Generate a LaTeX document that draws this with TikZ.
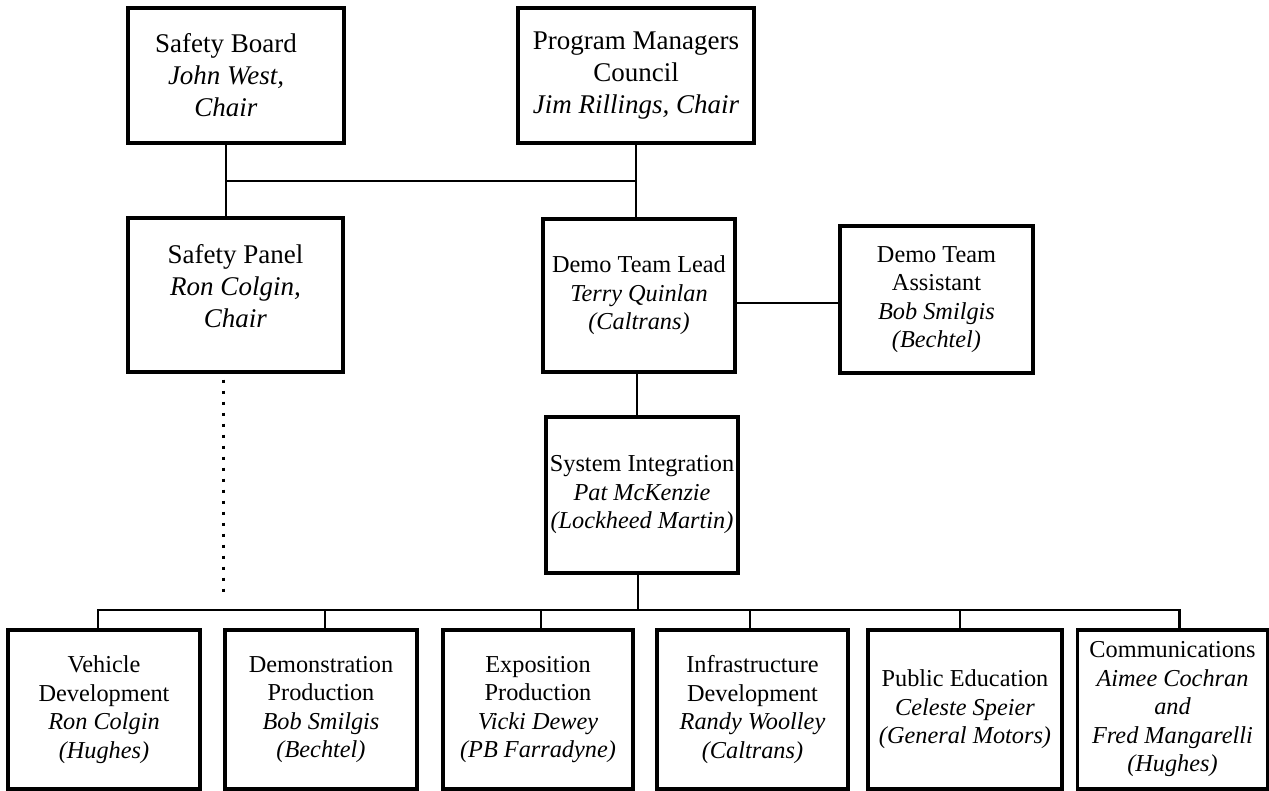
\documentclass[tikz,border=0pt]{standalone}
\usepackage{fontspec}
\setmainfont{Liberation Serif}
\begin{document}
\begin{tikzpicture}[x=1pt,y=-1pt,
  box/.style={draw, line width=3.2pt, inner sep=0pt, align=center},
  big/.style={font=\fontsize{27}{32}\selectfont},
  small/.style={font=\fontsize{24.3}{28.5}\selectfont},
  txt/.style={align=center, inner sep=0pt},
  link/.style={line width=2.4pt},
  dots/.style={line width=3pt, dash pattern=on 3pt off 8pt, dash phase=-6pt},
  bottom/.style={box, small, minimum width=192pt, minimum height=159pt},
]
\useasboundingbox (0,0) rectangle (1269,791);
\fill[white] (0,0) rectangle (1269,791);

% top row
\node[box, minimum width=216pt, minimum height=135pt] (sb) at (236,75.5) {};
\node[txt, big] (sbt) at (226,75.5) {Safety Board\\\textit{John West,}\\\textit{Chair}};
\node[box, big, minimum width=236pt, minimum height=135pt] (pmc) at (636,75.5)
  {Program Managers\\Council\\\textit{Jim Rillings, Chair}};

% second row
\node[box, minimum width=215pt, minimum height=154pt] (sp) at (235.5,295) {};
\node[txt, big] (spt) at (235.5,286) {Safety Panel\\\textit{Ron Colgin,}\\\textit{Chair}};
\node[box, small, minimum width=192pt, minimum height=153pt] (dtl) at (639,295.5)
  {Demo Team Lead\\\textit{Terry Quinlan}\\\textit{(Caltrans)}};
\node[box, small, minimum width=193pt, minimum height=147pt] (dta) at (936.5,299.5)
  {Demo Team\\Assistant\\\textit{Bob Smilgis}\\\textit{(Bechtel)}};

% system integration
\node[box, small, minimum width=192pt, minimum height=156pt] (si) at (642,495)
  {System Integration\\\textit{Pat McKenzie}\\\textit{(Lockheed Martin)}};

% bottom row
\node[bottom] (b1) at (104,709.5) {Vehicle\\Development\\\textit{Ron Colgin}\\\textit{(Hughes)}};
\node[bottom] (b2) at (321,709.5) {Demonstration\\Production\\\textit{Bob Smilgis}\\\textit{(Bechtel)}};
\node[bottom, minimum width=190pt] (b3) at (538,709.5) {Exposition\\Production\\\textit{Vicki Dewey}\\\textit{(PB Farradyne)}};
\node[bottom, minimum width=191pt] (b4) at (752.5,709.5) {Infrastructure\\Development\\\textit{Randy Woolley}\\\textit{(Caltrans)}};
\node[bottom, minimum width=194pt] (b5) at (965,709.5) {Public Education\\\textit{Celeste Speier}\\\textit{(General Motors)}};
\node[bottom, minimum width=190pt] (b6) at (1172.5,709.5) {Communications\\\textit{Aimee Cochran}\\\textit{and}\\\textit{Fred Mangarelli}\\\textit{(Hughes)}};

% helper coordinates
\coordinate (hy) at (0,181);
\coordinate (ay) at (0,303);
\coordinate (busy) at (0,610);
\coordinate (dotend) at (223,592);

% connectors
\draw[link] ([xshift=-10pt]sb.south) -- ([xshift=-10pt]sb.south |- sp.north);
\draw[link] ([xshift=-10pt]sb.south |- hy) -- (pmc.south |- hy);
\draw[link] (pmc.south) -- (pmc.south |- dtl.north);
\draw[link] (dtl.east |- ay) -- (dta.west |- ay);
\draw[link] ([xshift=-2pt]dtl.south) -- ([xshift=-2pt]dtl.south |- si.north);
\draw[link] ([xshift=-4pt]si.south) -- ([xshift=-4pt]si.south |- busy);
\draw[link] ([xshift=-6pt]b1.north) -- ([xshift=-6pt]b1.north |- busy) -- ([xshift=7pt]b6.north |- busy) -- ([xshift=7pt]b6.north);
\draw[link] ([xshift=4pt]b2.north) -- ([xshift=4pt]b2.north |- busy);
\draw[link] ([xshift=3pt]b3.north) -- ([xshift=3pt]b3.north |- busy);
\draw[link] ([xshift=-2.5pt]b4.north) -- ([xshift=-2.5pt]b4.north |- busy);
\draw[link] ([xshift=-5pt]b5.north) -- ([xshift=-5pt]b5.north |- busy);
\draw[dots] (sp.south -| dotend) -- (dotend);
\end{tikzpicture}
\end{document}
